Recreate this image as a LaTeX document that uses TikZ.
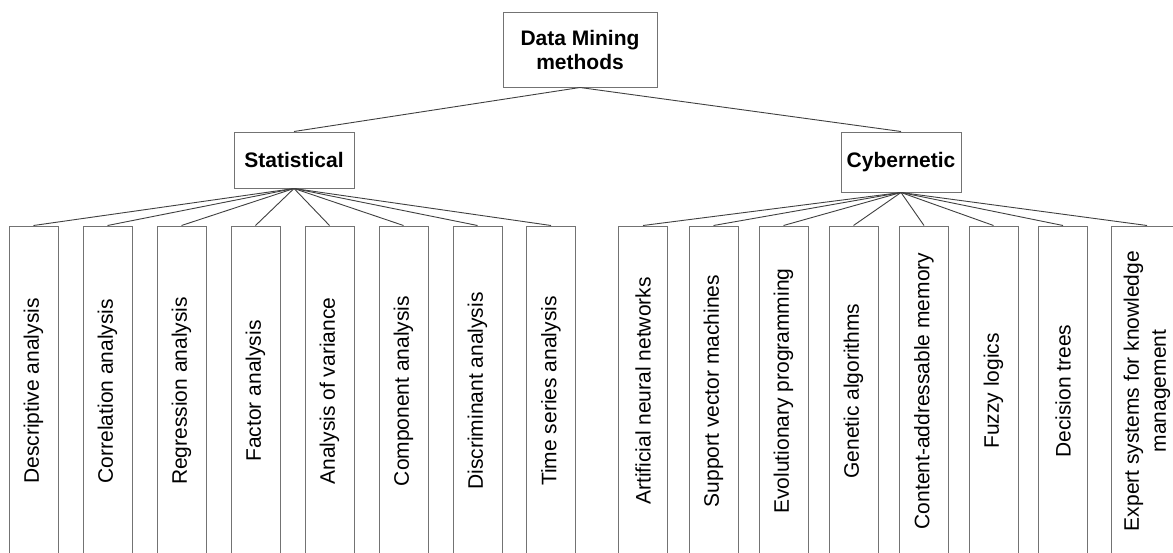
\documentclass[tikz,border=0pt]{standalone}
\usepackage{fontspec}
\setmainfont{Liberation Sans}
\begin{document}
\begin{tikzpicture}[x=1pt,y=-1pt,
  box/.style={draw=black!55, line width=1pt, rectangle, inner sep=0pt, align=center,
    font=\fontsize{21}{24}\selectfont},
  head/.style={box, font=\fontsize{21}{24}\selectfont\bfseries},
  leaf/.style={box, rotate=90, minimum width=330, minimum height=49},
  link/.style={draw=black!75, line width=0.9pt}]
\useasboundingbox (0,0) rectangle (1173,552);
\clip (0,0) rectangle (1173,552);
\fill[white] (0,0) rectangle (1173,552);

\node[head, minimum width=154, minimum height=75] (root) at (580,49.5) {Data Mining\\methods};
\node[head, minimum width=120, minimum height=56] (stat) at (294,160) {Statistical};
\node[head, minimum width=120, minimum height=60] (cyb) at (901,162) {Cybernetic};

\node[leaf] (s1) at (33.5,391) {Descriptive analysis};
\node[leaf] (s2) at (107.5,391) {Correlation analysis};
\node[leaf] (s3) at (181.5,391) {Regression analysis};
\node[leaf] (s4) at (255.5,391) {Factor analysis};
\node[leaf] (s5) at (329.5,391) {Analysis of variance};
\node[leaf] (s6) at (403.5,391) {Component analysis};
\node[leaf] (s7) at (477.5,391) {Discriminant analysis};
\node[leaf] (s8) at (551,391) {Time series analysis};

\node[leaf] (c1) at (643,391) {Artificial neural networks};
\node[leaf] (c2) at (713.5,391) {Support vector machines};
\node[leaf] (c3) at (783.5,391) {Evolutionary programming};
\node[leaf] (c4) at (853.5,391) {Genetic algorithms};
\node[leaf] (c5) at (924,391) {Content-addressable memory};
\node[leaf] (c6) at (993.5,391) {Fuzzy logics};
\node[leaf] (c7) at (1063,391) {Decision trees};
\node[leaf, minimum height=72] (c8) at (1147,391) {Expert systems for knowledge\\[3pt]management};

\draw[link] (root.south) -- (stat.north);
\draw[link] (root.south) -- (cyb.north);
\foreach \i in {1,...,8} {
  \draw[link] (stat.south) -- (s\i.east);
  \draw[link] (cyb.south) -- (c\i.east);
}
\end{tikzpicture}
\end{document}
